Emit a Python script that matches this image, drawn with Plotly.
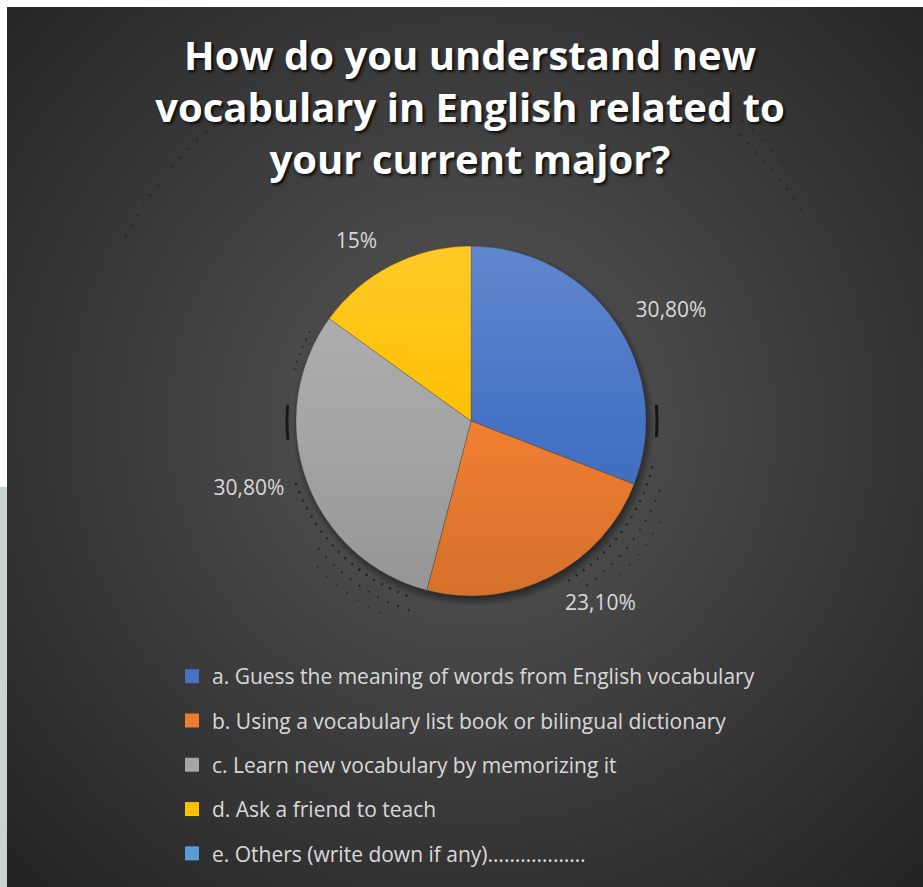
import base64
import struct
import zlib

import numpy as np
import plotly.graph_objects as go

# Survey answers
categories = [
    "a. Guess the meaning of words from English vocabulary",
    "b. Using a vocabulary list book or bilingual dictionary",
    "c. Learn new vocabulary by memorizing it",
    "d. Ask a friend to teach",
    "e. Others (write down if any)………………",
]
values = [30.8, 23.1, 30.8, 15.0, 0.0]
value_labels = ["30,80%", "23,10%", "30,80%", "15%", ""]
colors = ["#4472c4", "#ed7d31", "#a5a5a5", "#ffc000", "#5b9bd5"]

title_text = "How do you understand new<br>vocabulary in English related to<br>your current major?"

W, H = 923, 887


def png_data_uri(arr):
    """Encode an HxWx3 or HxWx4 uint8 array as a PNG data URI."""
    h, w, ch = arr.shape
    raw = b"".join(b"\x00" + arr[r].tobytes() for r in range(h))

    def chunk(tag, data):
        body = tag + data
        return struct.pack(">I", len(data)) + body + struct.pack(">I", zlib.crc32(body) & 0xFFFFFFFF)

    ctype = 6 if ch == 4 else 2
    png = b"\x89PNG\r\n\x1a\n"
    png += chunk(b"IHDR", struct.pack(">IIBBBBB", w, h, 8, ctype, 0, 0, 0))
    png += chunk(b"IDAT", zlib.compress(raw, 9))
    png += chunk(b"IEND", b"")
    return "data:image/png;base64," + base64.b64encode(png).decode()


# Radial dark-grey backdrop, lighter behind the pie
bx0, by0 = 7, 7
bw, bh = W - bx0, H - by0
scale = 4
gw, gh = bw // scale, bh // scale
yy, xx = np.mgrid[0:gh, 0:gw].astype(float)
cx, cy = (470 - bx0) / scale, (420 - by0) / scale
d = np.hypot(xx - cx, yy - cy)
t = np.clip(d / d.max(), 0, 1)
shade = (90 - 54 * t ** 0.95).astype(np.uint8)
bg_uri = png_data_uri(np.dstack([shade, shade, shade]))

# Pie geometry in pixels
pcx, pcy, pr = 471, 421, 175
label_r = 191  # outer ring used only to carry the value labels


def pie_domain(r):
    return dict(x=[(pcx - r) / W, (pcx + r) / W], y=[1 - (pcy + r) / H, 1 - (pcy - r) / H])


# Soft drop shadow and top-lit sheen for the pie
ss = 2
n = int((pr + 14) * 2 * ss)
oy, ox = np.mgrid[0:n, 0:n].astype(float) / ss - (pr + 14)
dist_sh = np.hypot(ox - 2, oy - 4)
sh_alpha = np.clip((pr + 6 - dist_sh) / 12, 0, 1) * 0.55
shadow = np.zeros((n, n, 4), np.uint8)
shadow[..., 3] = (sh_alpha * 255).astype(np.uint8)
shadow_uri = png_data_uri(shadow)
sh_half = pr + 14

m = int(pr * 2 * ss)
sy, sx = np.mgrid[0:m, 0:m].astype(float) / ss - pr
inside = np.clip(pr - np.hypot(sx, sy), 0, 1)
v = (sy + pr) / (2 * pr)  # 0 at top, 1 at bottom
sheen = np.zeros((m, m, 4), np.uint8)
white_a = np.clip(0.16 * (1 - v / 0.55), 0, 1)
black_a = np.clip(0.10 * (v - 0.55) / 0.45, 0, 1)
sheen[..., 0:3] = np.where(white_a[..., None] > 0, 255, 0).astype(np.uint8)
sheen[..., 3] = ((white_a + black_a) * inside * 255).astype(np.uint8)
sheen_uri = png_data_uri(sheen)


def arc_path(r, a0, a1, steps=40):
    """SVG path (paper units) for an arc around the pie centre; angles clockwise from 12 o'clock."""
    pts = []
    for a in np.linspace(np.radians(a0), np.radians(a1), steps):
        px = pcx + r * np.sin(a)
        py = pcy - r * np.cos(a)
        pts.append(f"{px / W:.5f},{1 - py / H:.5f}")
    return "M" + " L".join(pts)


# Faint dotted rings decorating the backdrop: (radius, start, end, width, dash, opacity)
rings = [
    (186, 200, 252, 2.4, "2px,7px", 0.6),
    (199, 198, 232, 2.2, "2px,9px", 0.5),
    (212, 205, 228, 1.8, "2px,11px", 0.35),
    (184, 286, 300, 2.0, "2px,6px", 0.5),
    (187, 104, 150, 2.4, "2px,7px", 0.6),
    (201, 110, 146, 2.2, "2px,9px", 0.5),
    (214, 118, 138, 1.8, "2px,11px", 0.35),
    (184, 264, 275, 3.0, "solid", 0.75),
    (186, 85, 95, 3.0, "solid", 0.85),
    (392, 298, 322, 2.0, "2px,10px", 0.35),
    (392, 36, 58, 2.0, "2px,10px", 0.35),
    (405, 42, 52, 2.0, "2px,12px", 0.3),
]
ring_shapes = [
    dict(type="path", xref="paper", yref="paper", path=arc_path(r, a0, a1),
         line=dict(color=f"rgba(10,10,10,{op})", width=wd, dash=ds), layer="below")
    for r, a0, a1, wd, ds, op in rings
]

shown = [i for i, val in enumerate(values) if val > 0]
pie_vals = [values[i] for i in shown]
pie_labels = [categories[i] for i in shown]

fig = go.Figure()
fig.add_trace(
    go.Pie(
        labels=pie_labels,
        values=pie_vals,
        textinfo="none",
        marker=dict(colors=[colors[i] for i in shown], line=dict(color="rgba(70,70,70,0.6)", width=0.6)),
        sort=False, direction="clockwise", rotation=0,
        domain=pie_domain(pr),
        showlegend=False,
        hoverinfo="label+percent",
    )
)
# Transparent ring with the same values, carrying the outside labels
fig.add_trace(
    go.Pie(
        labels=pie_labels,
        values=pie_vals,
        text=[value_labels[i] for i in shown],
        texttemplate="%{text}",
        textinfo="text",
        textposition="outside",
        textfont=dict(family="Open Sans", size=21, color="#d9d9d9"),
        marker=dict(colors=["rgba(0,0,0,0)"] * len(shown), line=dict(width=0)),
        sort=False, direction="clockwise", rotation=0,
        domain=pie_domain(label_r),
        showlegend=False,
        hoverinfo="skip",
    )
)

# Legend entries, one group each so the gap between rows can be set
for name, c in zip(categories, colors):
    fig.add_trace(
        go.Scatter(
            x=[None], y=[None], mode="markers", name=name, legendgroup=name,
            marker=dict(symbol="square", size=14, color=c),
            showlegend=True, hoverinfo="skip",
        )
    )

fig.update_layout(
    width=W, height=H,
    margin=dict(l=0, r=0, t=0, b=0),
    paper_bgcolor="white",
    plot_bgcolor="rgba(0,0,0,0)",
    xaxis=dict(visible=False),
    yaxis=dict(visible=False),
    title=dict(
        text=title_text,
        x=470 / W, xanchor="center",
        y=1 - 70 / H, yanchor="top", yref="container",
        font=dict(family="Open Sans", size=40, color="white", weight="bold",
                  shadow="2px 2px 3px rgba(0,0,0,0.85)"),
    ),
    legend=dict(
        x=172 / W, xanchor="left",
        y=1 - 656 / H, yanchor="top",
        font=dict(family="Open Sans", size=21, color="#d9d9d9"),
        bgcolor="rgba(0,0,0,0)",
        tracegroupgap=14,
        itemwidth=30,
        itemclick=False, itemdoubleclick=False,
    ),
    images=[
        dict(source=bg_uri, xref="paper", yref="paper",
             x=bx0 / W, y=1 - by0 / H, sizex=bw / W, sizey=bh / H,
             xanchor="left", yanchor="top", sizing="stretch", layer="below"),
        dict(source=shadow_uri, xref="paper", yref="paper",
             x=(pcx - sh_half) / W, y=1 - (pcy - sh_half) / H,
             sizex=2 * sh_half / W, sizey=2 * sh_half / H,
             xanchor="left", yanchor="top", sizing="stretch", layer="below"),
        dict(source=sheen_uri, xref="paper", yref="paper",
             x=(pcx - pr) / W, y=1 - (pcy - pr) / H,
             sizex=2 * pr / W, sizey=2 * pr / H,
             xanchor="left", yanchor="top", sizing="stretch", layer="above"),
    ],
    shapes=[dict(
        type="rect", xref="paper", yref="paper",
        x0=0, x1=bx0 / W, y0=0, y1=1 - 487 / H,
        fillcolor="#c9d4cf", line=dict(width=0), layer="below",
    )] + ring_shapes,
)

fig.write_html("out.html")
